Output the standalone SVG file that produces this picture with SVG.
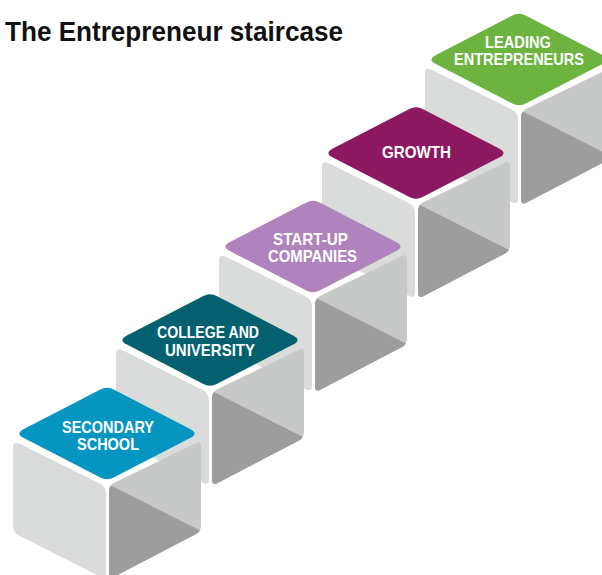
<svg xmlns="http://www.w3.org/2000/svg" xmlns:xlink="http://www.w3.org/1999/xlink" width="602" height="575" viewBox="0 0 602 575">
<style>
.lf{fill:#dadbdb}
.rf{fill:#c7c8c8}
.dk{fill:#9d9d9d}
.c-sec{fill:#0595c1}
.c-col{fill:#02606f}
.c-sta{fill:#b183bc}
.c-gro{fill:#8d1862}
.c-lea{fill:#6cb43f}
.lbl{font-family:"Liberation Sans",Arial,sans-serif;font-weight:bold;font-size:16.5px;fill:#ffffff;text-anchor:middle}
.title{font-family:"Liberation Sans",Arial,sans-serif;font-weight:bold;font-size:28.5px;fill:#111111}
</style>
<defs>
<path id="rfshape" d="M 2,58 Q 2,52 7.39,49.36 L 88.61,9.64 Q 94,7 94,13 L 94,92 Q 94,98 88.68,100.77 L 7.32,143.23 Q 2,146 2,140 Z"/>
<clipPath id="rfclip"><use xlink:href="#rfshape" href="#rfshape"/></clipPath>
<g id="cube">
<path class="lf" d="M -94,14 Q -94,7 -87.73,10.10 L -7.27,49.90 Q -1,53 -1,60 L -1,139 Q -1,146 -7.25,142.84 L -87.75,102.16 Q -94,99 -94,92 Z"/>
<use class="rf" xlink:href="#rfshape" href="#rfshape"/>
<path class="dk" d="M -2,49 L 98,99.5 L 98,160 L -2,160 Z" clip-path="url(#rfclip)"/>
</g>
<path id="diamond" d="M -83.12,-4.59 L -7.11,-43.83 Q 0,-47.5 7.11,-43.83 L 83.12,-4.59 Q 92,0 83.12,4.59 L 7.11,43.83 Q 0,47.5 -7.11,43.83 L -83.12,4.59 Q -92,0 -83.12,-4.59 Z"/>
</defs>
<rect width="602" height="575" fill="#ffffff"/>
<text class="title" x="5" y="41" textLength="338" lengthAdjust="spacingAndGlyphs">The Entrepreneur staircase</text>
<g id="connectors"></g>
<g id="node-leading">
<use xlink:href="#cube" href="#cube" x="519" y="59.5"/>
<use class="c-lea" xlink:href="#diamond" href="#diamond" x="519" y="59.5"/>
<text class="lbl" x="518" y="48" textLength="66" lengthAdjust="spacingAndGlyphs">LEADING</text>
<text class="lbl" x="519" y="65" textLength="130" lengthAdjust="spacingAndGlyphs">ENTREPRENEURS</text>
</g>
<g id="node-growth">
<use xlink:href="#cube" href="#cube" x="416" y="153"/>
<use class="c-gro" xlink:href="#diamond" href="#diamond" x="416" y="153"/>
<text class="lbl" x="416.5" y="158" textLength="69" lengthAdjust="spacingAndGlyphs">GROWTH</text>
</g>
<g id="node-startup">
<use xlink:href="#cube" href="#cube" x="313" y="246.5"/>
<use class="c-sta" xlink:href="#diamond" href="#diamond" x="313" y="246.5"/>
<text class="lbl" x="310.5" y="245" textLength="75" lengthAdjust="spacingAndGlyphs">START-UP</text>
<text class="lbl" x="312.5" y="262" textLength="89" lengthAdjust="spacingAndGlyphs">COMPANIES</text>
</g>
<g id="node-college">
<use xlink:href="#cube" href="#cube" x="210" y="340"/>
<use class="c-col" xlink:href="#diamond" href="#diamond" x="210" y="340"/>
<text class="lbl" x="208" y="338" textLength="102" lengthAdjust="spacingAndGlyphs">COLLEGE AND</text>
<text class="lbl" x="210" y="356" textLength="90" lengthAdjust="spacingAndGlyphs">UNIVERSITY</text>
</g>
<g id="node-secondary">
<use xlink:href="#cube" href="#cube" x="107" y="433.5"/>
<use class="c-sec" xlink:href="#diamond" href="#diamond" x="107" y="433.5"/>
<text class="lbl" x="108" y="433" textLength="92" lengthAdjust="spacingAndGlyphs">SECONDARY</text>
<text class="lbl" x="108" y="450" textLength="62" lengthAdjust="spacingAndGlyphs">SCHOOL</text>
</g>
</svg>
